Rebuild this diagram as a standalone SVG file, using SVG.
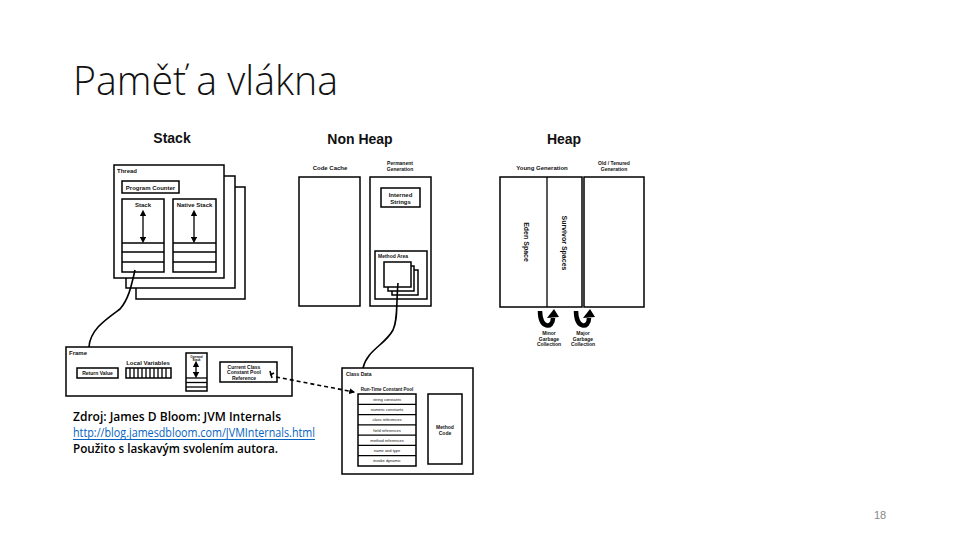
<svg xmlns="http://www.w3.org/2000/svg" width="960" height="540" viewBox="0 0 960 540">
<defs>
<style>
.b{fill:#fff;stroke:#000;stroke-width:1.5}
.n{fill:none;stroke:#000;stroke-width:1.3}
.t{font-family:"Liberation Sans",Arial,sans-serif;font-weight:bold;fill:#111}
.h{font-size:14px;text-anchor:middle}
.s6{font-size:6px}
.s5{font-size:5px}
.s4{font-size:4px;font-weight:normal}
.m{text-anchor:middle}
.src{font-family:"Open Sans","Liberation Sans",sans-serif;font-size:12px;font-weight:600;fill:#000}
</style>
<marker id="dbl" viewBox="0 0 10 10" refX="5" refY="5" markerWidth="5" markerHeight="5" orient="auto-start-reverse">
<path d="M0,0 L10,5 L0,10 z" fill="#000"/>
</marker>
<marker id="arr" viewBox="0 0 10 10" refX="8" refY="5" markerWidth="6" markerHeight="6" orient="auto" markerUnits="userSpaceOnUse">
<path d="M0,0 L10,5 L0,10 z" fill="#000"/>
</marker>
</defs>
<rect width="960" height="540" fill="#fff"/>
<text x="73" y="95" font-family="'Open Sans','Liberation Sans',sans-serif" font-weight="300" font-size="40" textLength="265" lengthAdjust="spacingAndGlyphs" fill="#111">Paměť a vlákna</text>

<g id="titles">
<text class="t h" x="172" y="143">Stack</text>
<text class="t h" x="360" y="144">Non Heap</text>
<text class="t h" x="564" y="144">Heap</text>
</g>

<g id="thread">
<rect class="b" x="136" y="187" width="109" height="112"/>
<rect class="b" x="126" y="176" width="109" height="112"/>
<rect class="b" x="114" y="165" width="110" height="113"/>
<text class="t s6" x="117" y="173">Thread</text>
<rect class="b" x="122" y="181" width="57" height="12"/>
<text class="t s6 m" x="150.5" y="189.5">Program Counter</text>
<rect class="b" x="122" y="199" width="42" height="73"/>
<text class="t s6 m" x="143" y="207">Stack</text>
<line class="n" x1="143" y1="213" x2="143" y2="240" stroke-width="1.5" marker-start="url(#dbl)" marker-end="url(#dbl)"/>
<line class="n" x1="122" y1="243" x2="164" y2="243"/>
<line class="n" x1="122" y1="252" x2="164" y2="252"/>
<line class="n" x1="122" y1="262" x2="164" y2="262"/>
<rect class="b" x="173" y="199" width="43" height="73"/>
<text class="t s6 m" x="194.5" y="207">Native Stack</text>
<line class="n" x1="194" y1="213" x2="194" y2="240" stroke-width="1.5" marker-start="url(#dbl)" marker-end="url(#dbl)"/>
<line class="n" x1="173" y1="243" x2="216" y2="243"/>
<line class="n" x1="173" y1="252" x2="216" y2="252"/>
<line class="n" x1="173" y1="262" x2="216" y2="262"/>
</g>

<g id="code-cache">
<text class="t s6 m" x="330" y="170">Code Cache</text>
<rect class="b" x="299" y="177" width="61" height="129"/>
</g>

<g id="permanent-generation">
<text class="t s5 m" x="400" y="165">Permanent</text>
<text class="t s5 m" x="400" y="171">Generation</text>
<rect class="b" x="370" y="177" width="61" height="129"/>
<rect class="b" x="381" y="188" width="39" height="19"/>
<text class="t s6 m" x="400.5" y="197">Interned</text>
<text class="t s6 m" x="400.5" y="203.5">Strings</text>
<rect class="b" x="375" y="251" width="52" height="48"/>
<text class="t s5" x="378" y="258">Method Area</text>
<rect class="b" x="392" y="270" width="26" height="25"/>
<rect class="b" x="388" y="266" width="26" height="25"/>
<rect class="b" x="384" y="262" width="27" height="25"/>
</g>

<g id="young-generation">
<text class="t s6 m" x="542" y="170">Young Generation</text>
<rect class="b" x="500" y="177" width="82" height="130"/>
<line class="n" x1="547" y1="177" x2="547" y2="307" stroke-width="1.5"/>
<text class="t m" font-size="7" transform="translate(523.5,242) rotate(90)">Eden Space</text>
<text class="t m" font-size="7" transform="translate(562,243) rotate(90)">Survivor Spaces</text>
</g>

<g id="old-generation">
<text class="t s5 m" x="614" y="165">Old / Tenured</text>
<text class="t s5 m" x="614" y="171">Generation</text>
<rect class="b" x="584" y="177" width="60" height="130"/>
</g>

<g id="minor-gc">
<path d="M540,311 C540,329 553,329 553,318" fill="none" stroke="#000" stroke-width="4.5"/>
<path d="M547,318 L559,317 L554,309 z" fill="#000"/>
<text class="t s5 m" x="549" y="335">Minor</text>
<text class="t s5 m" x="549" y="340.5">Garbage</text>
<text class="t s5 m" x="549" y="346">Collection</text>
</g>

<g id="major-gc">
<path d="M576,311 C576,329 589,329 589,318" fill="none" stroke="#000" stroke-width="4.5"/>
<path d="M583,318 L595,317 L590,309 z" fill="#000"/>
<text class="t s5 m" x="583" y="335">Major</text>
<text class="t s5 m" x="583" y="340.5">Garbage</text>
<text class="t s5 m" x="583" y="346">Collection</text>
</g>

<g id="frame">
<rect class="b" x="66" y="347" width="226" height="49"/>
<text class="t s6" x="69" y="355">Frame</text>
<rect class="b" x="77" y="368" width="41" height="10"/>
<text class="t s5 m" x="97.5" y="375">Return Value</text>
<text class="t s6 m" x="148" y="365">Local Variables</text>
<rect class="b" x="126" y="368" width="45" height="10"/>
<path class="n" d="M130,368v10M134,368v10M138,368v10M142,368v10M146,368v10M150,368v10M154,368v10M158,368v10M162,368v10M166,368v10" stroke-width="1"/>
<rect class="b" x="186" y="353" width="21" height="38"/>
<text class="t m" font-size="3" font-weight="normal" x="196.5" y="357.5">Operand</text>
<text class="t m" font-size="3" font-weight="normal" x="196.5" y="361">Stack</text>
<line class="n" x1="196" y1="364" x2="196" y2="375" stroke-width="0.8" marker-start="url(#dbl)" marker-end="url(#dbl)"/>
<line class="n" x1="186" y1="378" x2="207" y2="378"/>
<line class="n" x1="186" y1="382.5" x2="207" y2="382.5"/>
<line class="n" x1="186" y1="387" x2="207" y2="387"/>
<rect class="b" x="220" y="362" width="57" height="20"/>
<text class="t s5 m" x="244" y="368.5">Current Class</text>
<text class="t s5 m" x="244" y="374">Constant Pool</text>
<text class="t s5 m" x="244" y="379.5">Reference</text>
</g>

<g id="class-data">
<rect class="b" x="342" y="368" width="131" height="106"/>
<text class="t s5" x="346" y="376">Class Data</text>
<text class="t m" font-size="4.5" x="387" y="391">Run-Time Constant Pool</text>
<rect class="b" x="358" y="394" width="58" height="72"/>
<path class="n" d="M358,404.3h58M358,414.6h58M358,424.9h58M358,435.1h58M358,445.4h58M358,455.7h58"/>
<text class="t s4 m" x="387" y="400.7">string constants</text>
<text class="t s4 m" x="387" y="411">numeric constants</text>
<text class="t s4 m" x="387" y="421.3">class references</text>
<text class="t s4 m" x="387" y="431.6">field references</text>
<text class="t s4 m" x="387" y="441.8">method references</text>
<text class="t s4 m" x="387" y="452.1">name and type</text>
<text class="t s4 m" x="387" y="462.4">invoke dynamic</text>
<rect class="b" x="428" y="394" width="34" height="70"/>
<text class="t s5 m" x="445" y="429">Method</text>
<text class="t s5 m" x="445" y="434.5">Code</text>
</g>

<g id="connectors">
<path d="M135,270 C131,288 128,300 120,309 C105,320 90,330 89,347" fill="none" stroke="#000" stroke-width="1.6"/>
<path d="M398,283 C396,305 398,320 393,330 C385,345 367,350 363,368" fill="none" stroke="#000" stroke-width="1.6"/>
<path d="M270,371 L272,378 M270,375 L274,373" fill="none" stroke="#000" stroke-width="1.6"/>
<path d="M276,377 L354,392" fill="none" stroke="#000" stroke-width="1.6" stroke-dasharray="4,3" marker-end="url(#arr)"/>
</g>

<g id="source">
<text class="src" x="73" y="421" textLength="208" lengthAdjust="spacingAndGlyphs">Zdroj: James D Bloom: JVM Internals</text>
<text class="src" x="73" y="437" style="fill:#0563C1;font-weight:normal" textLength="242" lengthAdjust="spacingAndGlyphs">http://blog.jamesdbloom.com/JVMInternals.html</text>
<line x1="73" y1="439.5" x2="315" y2="439.5" stroke="#0563C1" stroke-width="1"/>
<text class="src" x="73" y="453" textLength="205" lengthAdjust="spacingAndGlyphs">Použito s laskavým svolením autora.</text>
</g>

<text x="880" y="519" font-family="'Liberation Sans',Arial,sans-serif" font-size="11" fill="#888" text-anchor="middle">18</text>
</svg>
